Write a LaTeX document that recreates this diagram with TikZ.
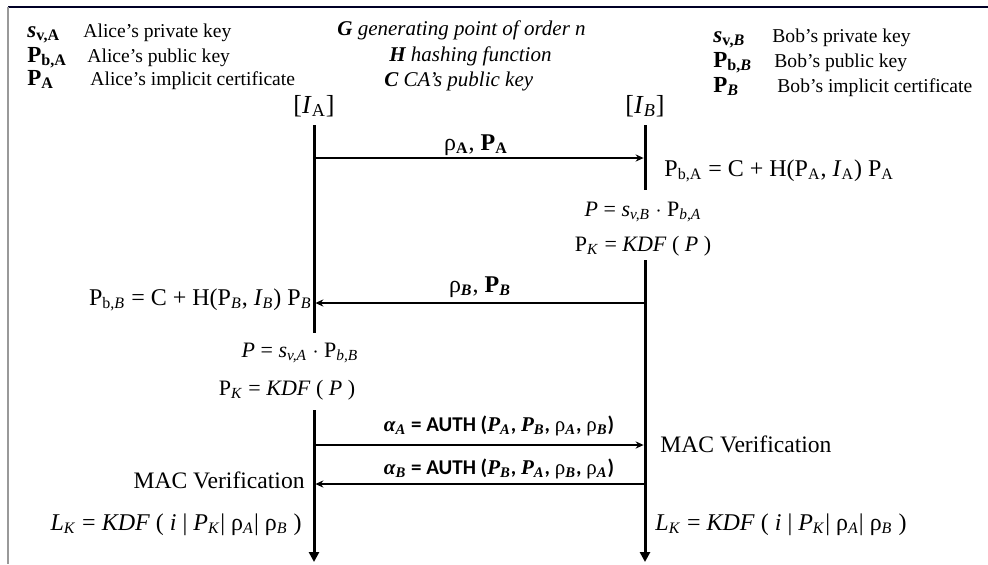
\documentclass[tikz,border=0pt]{standalone}
\usepackage{fontspec}
\setmainfont{Liberation Serif}
\newfontfamily\authfont{Carlito}
\usetikzlibrary{arrows.meta}

\newcommand{\sbs}[1]{\textsubscript{#1}}
\newcommand{\bip}[1]{{\normalfont\bfseries\itshape P\sbs{#1}}}

\tikzset{
  vita/.style={line width=1.5pt},
  fine/.style={vita,-{Triangle[length=5pt,width=5pt]}},
  msg/.style={line width=0.75pt,-{Stealth[length=4pt,width=3.6pt]},shorten >=0.7pt},
  testo/.style={inner sep=0pt,anchor=base west,font=\fontsize{9.8}{11}\selectfont},
  simb/.style={testo,font=\fontsize{11.5}{13}\selectfont},
  centro/.style={inner sep=0pt,anchor=base west,font=\fontsize{10.5}{12}\selectfont\itshape},
  formula/.style={inner sep=0pt,anchor=base west,font=\fontsize{12}{14}\selectfont},
  etich/.style={inner sep=0pt,anchor=base,font=\fontsize{11}{13}\selectfont},
  auth/.style={inner sep=0pt,anchor=base,font=\fontsize{10.5}{12}\selectfont\authfont\bfseries},
}

\begin{document}
\begin{tikzpicture}[x=0.5pt,y=-0.5pt]
  \useasboundingbox (0,0) rectangle (988,564);

  % cornice
  \draw[line width=1pt,color=black!85!blue] (8,7) -- (988,7);
  \draw[line width=1pt,color=gray!80] (8,7) -- (8,564);

  % legenda Alice
  \node[simb] (sA) at (27,37) {\textbf{\textit{s}\sbs{v,A}}};
  \node[testo] (tsA) at (83,37) {Alice’s private key};
  \node[simb] (pbA) at (27,62) {\textbf{P\sbs{b,A}}};
  \node[testo] (tpbA) at (87,62) {Alice’s public key};
  \node[simb] (pA) at (27,85) {\textbf{P\sbs{A}}};
  \node[testo] (tpA) at (90,85) {Alice’s implicit certificate};

  % legenda centrale
  \node[centro] (G) at (337,35) {\textbf{G} generating point of order n};
  \node[centro] (H) at (389,61) {\textbf{H} hashing function};
  \node[centro] (C) at (384,86) {\textbf{C} CA’s public key};

  % legenda Bob
  \node[simb] (sB) at (713,42) {\textbf{\textit{s}\sbs{v,\textit{B}}}};
  \node[testo] (tsB) at (772,42) {Bob’s private key};
  \node[simb] (pbB) at (713,67) {\textbf{P\sbs{b,\textit{B}}}};
  \node[testo] (tpbB) at (774,67) {Bob’s public key};
  \node[simb] (pB) at (713,92) {\textbf{P\sbs{\textit{B}}}};
  \node[testo] (tpB) at (777,92) {Bob’s implicit certificate};

  % entita
  \node[etich,font=\fontsize{13}{15}\selectfont] (IA) at (314,113) {[\textit{I}\sbs{A}]};
  \node[etich,font=\fontsize{13}{15}\selectfont] (IB) at (645,113) {[\textit{I}\sbs{\textit{B}}]};

  % linee temporali
  \coordinate (a0) at (314,125);
  \coordinate (a1) at (314,333);
  \coordinate (a2) at (314,410);
  \coordinate (a3) at (314,562);
  \coordinate (b0) at (645,125);
  \coordinate (b1) at (645,190);
  \coordinate (b2) at (645,260);
  \coordinate (b3) at (645,562);
  \draw[vita] (a0) -- (a1);
  \draw[fine] (a2) -- (a3);
  \draw[vita] (b0) -- (b1);
  \draw[fine] (b2) -- (b3);

  % messaggi
  \coordinate (m1a) at (314,158);
  \coordinate (m1b) at (645,158);
  \coordinate (m2a) at (314,303);
  \coordinate (m2b) at (645,303);
  \coordinate (m3a) at (314,445);
  \coordinate (m3b) at (645,445);
  \coordinate (m4a) at (314,484);
  \coordinate (m4b) at (645,484);
  \draw[msg] (m1a) -- (m1b);
  \draw[msg] (m2b) -- (m2a);
  \draw[msg] (m3a) -- (m3b);
  \draw[msg] (m4b) -- (m4a);

  \node[etich,font=\fontsize{12}{14}\selectfont] (r1) at (476,150) {ρ\sbs{\textbf{A}}, \textbf{P\sbs{A}}};
  \node[etich,font=\fontsize{12}{14}\selectfont] (r2) at (480,292) {ρ\sbs{\textbf{\textit{B}}}, \textbf{P\sbs{\textit{B}}}};
  \node[auth] (alA) at (499,431) {{\rmfamily\bfseries\itshape α\sbs{A}} = AUTH (\bip{A}, \bip{B}, {\rmfamily\mdseries ρ\sbs{\bfseries\itshape A}}, {\rmfamily\mdseries ρ\sbs{\bfseries\itshape B}})};
  \node[auth] (alB) at (499,474) {{\rmfamily\bfseries\itshape α\sbs{B}} = AUTH (\bip{B}, \bip{A}, {\rmfamily\mdseries ρ\sbs{\bfseries\itshape B}}, {\rmfamily\mdseries ρ\sbs{\bfseries\itshape A}})};

  % calcoli Bob
  \node[formula] (eqB1) at (664,176) {P\sbs{b,A} = C + H(P\sbs{A}, \textit{I}\sbs{A}) P\sbs{A}};
  \node[etich] (eqB2) at (643,216) {\textit{P} = \textit{s}\sbs{\textit{v,B}} $\cdot$ P\sbs{\textit{b,A}}};
  \node[etich] (eqB3) at (643,251) {P\sbs{\textit{K}} = \textit{KDF} ( \textit{P} )};

  % calcoli Alice
  \node[formula,anchor=base east] (eqA1) at (312,305) {P\sbs{b,\textit{B}} = C + H(P\sbs{\textit{B}}, \textit{I}\sbs{\textit{B}}) P\sbs{\textit{B}}};
  \node[etich] (eqA2) at (300,357) {\textit{P} = \textit{s}\sbs{\textit{v,A}} $\cdot$ P\sbs{\textit{b,B}}};
  \node[etich] (eqA3) at (287,395) {P\sbs{\textit{K}} = \textit{KDF} ( \textit{P} )};

  % verifica
  \node[formula,font=\fontsize{11.8}{14}\selectfont] (macB) at (660,452) {MAC Verification};
  \node[formula,font=\fontsize{11.8}{14}\selectfont,anchor=base east] (macA) at (305,488) {MAC Verification};

  % chiavi finali
  \node[formula,anchor=base east] (lkA) at (302,530) {\textit{L}\sbs{\textit{K}} = \textit{KDF} ( \textit{i} | \textit{P}\sbs{\textit{K}}| ρ\sbs{\textit{A}}| ρ\sbs{\textit{B}} )};
  \node[formula] (lkB) at (655,530) {\textit{L}\sbs{\textit{K}} = \textit{KDF} ( \textit{i} | \textit{P}\sbs{\textit{K}}| ρ\sbs{\textit{A}}| ρ\sbs{\textit{B}} )};
\end{tikzpicture}
\end{document}
